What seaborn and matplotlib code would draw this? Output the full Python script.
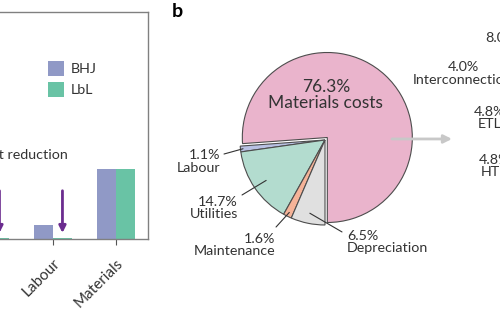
import matplotlib
matplotlib.use("Agg")
import matplotlib.pyplot as plt
import matplotlib.transforms as mtransforms
import seaborn as sns
import pandas as pd
import numpy as np

# ---- data -------------------------------------------------------------
categories = ["Depreciation", "Maintenance", "Utilities", "Labour", "Materials"]
bhj_cost = [3.0, 0.8, 16.0, 2.5, 12.3]
lbl_cost = [3.0, 0.8, 0.15, 0.15, 12.3]
reduced = ["Utilities", "Labour"]

pie_labels = ["Materials costs", "Labour", "Utilities", "Maintenance", "Depreciation"]
pie_share = [76.3, 1.1, 14.7, 1.6, 6.5]

side_labels = ["8.0%", "4.0%\nInterconnection", "4.8%\nETL", "4.8%\nHTL"]

# ---- style ------------------------------------------------------------
sns.set_style("white")
plt.rcParams["font.family"] = ["Lato", "DejaVu Sans"]
plt.rcParams["text.color"] = "#333333"
plt.rcParams["xtick.color"] = "#555555"
plt.rcParams["xtick.labelcolor"] = "#333333"

FS = 10.3

fig = plt.figure(figsize=(5.0, 3.3), dpi=100)

# ---- panel a: cost components -----------------------------------------
ax = fig.add_axes([-0.335, 0.2758, 0.63, 0.6878])
df = pd.DataFrame({
    "component": categories * 2,
    "cost": bhj_cost + lbl_cost,
    "device": ["BHJ"] * len(categories) + ["LbL"] * len(categories),
})
palette = {"BHJ": "#9099c6", "LbL": "#69c3a5"}
sns.barplot(data=df, x="component", y="cost", hue="device", order=categories,
            hue_order=["BHJ", "LbL"], palette=palette, saturation=1, width=0.6,
            linewidth=0, ax=ax)
ax.set_ylim(0, 40)
ax.set_xlim(-0.5, len(categories) - 0.5)
ax.set_yticks([])
ax.set_xlabel("")
ax.set_ylabel("")
for s in ax.spines.values():
    s.set_color("#808080")
    s.set_linewidth(1.0)
ax.tick_params(axis="x", bottom=True, length=4, width=0.8, labelsize=11, pad=2)
shift = mtransforms.ScaledTranslation(0, -9 / 100, fig.dpi_scale_trans)
for lab in ax.get_xticklabels():
    lab.set_rotation(45)
    lab.set_ha("right")
    lab.set_rotation_mode("anchor")
    lab.set_transform(lab.get_transform() + shift)

handles, labels = ax.get_legend_handles_labels()
ax.legend(handles, labels, loc="upper left", bbox_to_anchor=(0.082, 0.837),
          bbox_transform=fig.transFigure, frameon=False, borderpad=0,
          fontsize=FS, handlelength=1.1, handleheight=1.25, handletextpad=0.5,
          labelspacing=0.4)

for name in reduced:
    i = categories.index(name)
    ax.annotate("", xy=(i + 0.15, 1.06), xytext=(i + 0.15, 8.5),
                arrowprops=dict(arrowstyle="-|>", color="#6b2c8f", lw=2,
                                mutation_scale=10, shrinkA=0, shrinkB=0))
ax.text(3.24, 14.8, "Cost reduction", ha="right", va="center", fontsize=FS)

# ---- panel b: cost breakdown pie --------------------------------------
ax2 = fig.add_axes([0.48, 0.3182, 0.34, 0.5152])
pie_colors = ["#eab4cc", "#b9c1e3", "#b3dccf", "#f5b398", "#e0e0e0"]
wedges, _ = ax2.pie(pie_share, colors=pie_colors, startangle=-90,
                    counterclock=True, explode=[0.04, 0, 0, 0, 0],
                    wedgeprops=dict(edgecolor="#4d4d4d", linewidth=0.8))
ax2.set_xlim(-1, 1)
ax2.set_ylim(-1, 1)
ax2.set_aspect("equal")
ax2.axis("off")

pct = [f"{v:.1f}%" for v in pie_share]
ax2.text(0.01, 0.53, f"{pct[0]}\n{pie_labels[0]}", ha="center", va="center",
         fontsize=12.5, linespacing=1.05)

# label anchor, text alignment, radius for the leader end, leader start
callouts = [
    (1, (-1.235, -0.253), "right", 0.97, (-1.188, -0.165)),
    (2, (-1.024, -0.80), "right", 0.84, (-0.976, -0.647)),
    (3, (-0.588, -1.235), "right", 0.95, (-0.576, -1.024)),
    (4, (0.259, -1.20), "left", 0.88, (0.20, -1.082)),
]
for idx, (tx, ty), ha, r, (lx, ly) in callouts:
    w = wedges[idx]
    mid = np.deg2rad((w.theta1 + w.theta2) / 2)
    ex, ey = r * np.cos(mid), r * np.sin(mid)
    ax2.plot([lx, ex], [ly, ey], color="#333333", lw=0.8, clip_on=False)
    ax2.text(tx, ty, f"{pct[idx]}\n{pie_labels[idx]}", ha=ha, va="center",
             fontsize=FS, multialignment=ha, linespacing=1.05, clip_on=False)

ax2.annotate("", xy=(1.494, 0.012), xytext=(0.788, 0.012),
             arrowprops=dict(arrowstyle="-|>", color="#c8c8c8", lw=2,
                             mutation_scale=12, shrinkA=0, shrinkB=0),
             annotation_clip=False)

ax2.text(1.882, 1.2, side_labels[0], ha="left", va="center", fontsize=FS)
ax2.text(1.624, 0.782, side_labels[1], ha="center", va="center", fontsize=FS,
         linespacing=1.05)
ax2.text(1.94, 0.26, side_labels[2], ha="center", va="center", fontsize=FS,
         linespacing=1.05)
ax2.text(1.99, -0.306, side_labels[3], ha="center", va="center", fontsize=FS,
         linespacing=1.05)

fig.text(0.343, 0.965, "b", fontsize=14, fontweight="bold", ha="left", va="center",
         color="black")

fig.savefig("out.png", dpi=100)
